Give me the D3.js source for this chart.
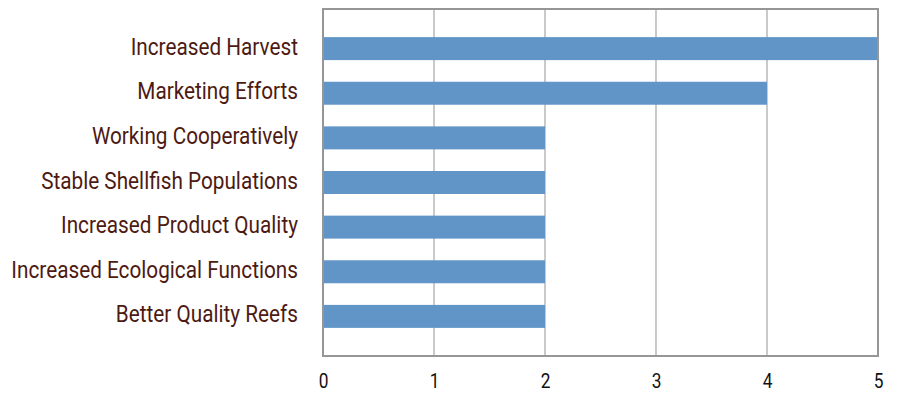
<!DOCTYPE html>
<html>
<head>
<meta charset="utf-8">
<script src="https://cdn.jsdelivr.net/npm/d3@7"></script>
<style>
  html, body { margin: 0; padding: 0; background: #fff; }
  svg { display: block; }
</style>
</head>
<body>
<svg id="chart" width="898" height="393"></svg>
<script>
// Benefits reported, one bar per category
const categories = [
  "Increased Harvest",
  "Marketing Efforts",
  "Working Cooperatively",
  "Stable Shellfish Populations",
  "Increased Product Quality",
  "Increased Ecological Functions",
  "Better Quality Reefs"
];
const values = [5, 4, 2, 2, 2, 2, 2];
const xTicks = [0, 1, 2, 3, 4, 5];

const svg = d3.select("#chart");
const plotLeft = 323, plotRight = 878, plotTop = 9, plotBottom = 356;
const font = "Roboto, 'Liberation Sans', sans-serif";
const squeeze = 0.865; // narrow the glyphs for a condensed look

const x = d3.scaleLinear().domain([0, 5]).range([plotLeft, plotRight]);
const y = d3.scaleBand().domain(categories).range([plotTop, plotBottom])
  .paddingInner(0.485).paddingOuter(0.63);

// vertical gridlines
svg.append("g").selectAll("line").data(xTicks.slice(1, -1)).join("line")
  .attr("x1", d => x(d)).attr("x2", d => x(d))
  .attr("y1", plotTop).attr("y2", plotBottom)
  .attr("stroke", "#a6a6a6").attr("stroke-width", 1.2);

// bars
svg.append("g").selectAll("rect").data(values).join("rect")
  .attr("x", x(0))
  .attr("y", (d, i) => y(categories[i]))
  .attr("width", d => x(d) - x(0))
  .attr("height", y.bandwidth())
  .attr("fill", "#6195c8");

// plot frame
svg.append("rect")
  .attr("x", plotLeft).attr("y", plotTop)
  .attr("width", plotRight - plotLeft).attr("height", plotBottom - plotTop)
  .attr("fill", "none").attr("stroke", "#969696").attr("stroke-width", 2);

// category labels
const yAxis = d3.axisLeft(y).tickSize(0).tickPadding(25);
svg.append("g").attr("transform", `translate(${plotLeft},0)`).call(yAxis)
  .call(g => g.select(".domain").remove())
  .selectAll("text")
  .attr("font-family", font).attr("font-size", 24)
  .attr("x", -25 / squeeze)
  .attr("dy", "0.25em")
  .attr("transform", `scale(${squeeze},1)`)
  .attr("fill", "#4d1a12");

// value axis labels
const xAxis = d3.axisBottom(x).tickValues(xTicks).tickSize(0).tickPadding(18)
  .tickFormat(d3.format("d"));
svg.append("g").attr("transform", `translate(0,${plotBottom})`).call(xAxis)
  .call(g => g.select(".domain").remove())
  .selectAll("text")
  .attr("font-family", font).attr("font-size", 20)
  .attr("transform", `scale(${squeeze},1)`)
  .attr("fill", "#111");
</script>
</body>
</html>
